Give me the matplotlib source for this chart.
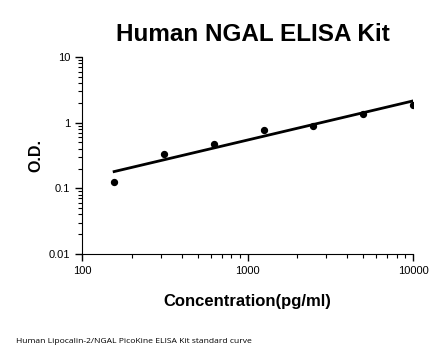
import numpy as np
import matplotlib
matplotlib.use("Agg")
import matplotlib.pyplot as plt
from matplotlib.ticker import LogLocator, FixedLocator, FixedFormatter, NullFormatter

conc = [156.25, 312.5, 625, 1250, 2500, 5000, 10000]
od = [0.125, 0.336, 0.477, 0.77, 0.897, 1.37, 1.87]
yticks = [0.01, 0.1, 1, 10]
ytick_labels = ["0.01", "0.1", "1", "10"]
xticks = [100, 1000, 10000]
xtick_labels = ["100", "1000", "10000"]

plt.rcParams['font.family'] = ['Liberation Sans', 'DejaVu Sans']

fig = plt.figure(figsize=(4.46, 3.56), dpi=100)
ax = fig.add_axes([0.184, 0.2865, 0.742, 0.5535])

ax.scatter(conc, od, s=18, color='black', zorder=3)
b, a = np.polyfit(np.log10(conc), np.log10(od), 1)
xf = np.array([min(conc), max(conc)])
ax.plot(xf, 10 ** (a + b * np.log10(xf)), color='black', lw=2)

ax.set_xscale('log')
ax.set_yscale('log')
ax.set_xlim(100, 10000)
ax.set_ylim(0.01, 10)
ax.xaxis.set_major_locator(FixedLocator(xticks))
ax.xaxis.set_major_formatter(FixedFormatter(xtick_labels))
ax.yaxis.set_major_locator(FixedLocator(yticks))
ax.yaxis.set_major_formatter(FixedFormatter(ytick_labels))
ax.xaxis.set_minor_locator(LogLocator(base=10, subs=np.arange(2, 10)))
ax.yaxis.set_minor_locator(LogLocator(base=10, subs=np.arange(2, 10)))
ax.xaxis.set_minor_formatter(NullFormatter())
ax.yaxis.set_minor_formatter(NullFormatter())
for s in ['top', 'right']:
    ax.spines[s].set_visible(False)
ax.tick_params(which='major', length=5, width=1, labelsize=8, direction='out')
ax.tick_params(which='minor', length=3, width=0.8, direction='out')

ax.set_xlabel("Concentration(pg/ml)", fontsize=12, fontweight='bold', labelpad=13)
ax.set_ylabel("O.D.", fontsize=11.5, fontweight='bold', labelpad=4)
fig.text(0.567, 0.902, "Human NGAL ELISA Kit", ha='center', va='center',
         fontsize=17.5, fontweight='bold')
fig.text(0.035, 0.042, "Human Lipocalin-2/NGAL PicoKine ELISA Kit standard curve",
         ha='left', va='center', fontsize=6.1, family=['Open Sans', 'DejaVu Sans'])

fig.savefig("out.png", dpi=100)
